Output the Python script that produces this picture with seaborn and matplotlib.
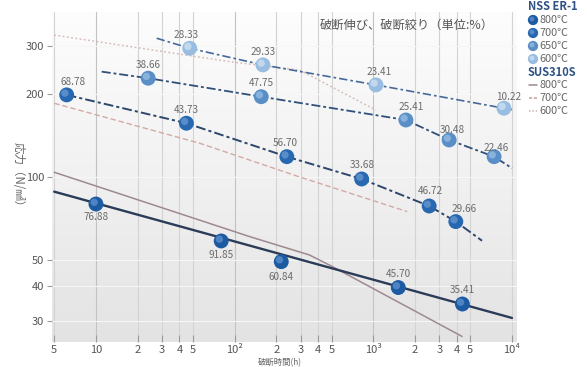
import matplotlib
matplotlib.use("Agg")
import matplotlib.pyplot as plt
import matplotlib.transforms as mtransforms
from matplotlib.colors import LinearSegmentedColormap
from matplotlib.lines import Line2D
import numpy as np
import pandas as pd
import seaborn as sns

# ---------------------------------------------------------------
# Creep rupture data: rupture time (h), stress (N/mm2),
# rupture elongation (%) printed next to each NSS ER-1 point
# ---------------------------------------------------------------
temps = ["800℃", "700℃", "650℃", "600℃"]

nss_800_time = [10, 80, 217, 1514, 4390]
nss_800_stress = [79.7, 58.5, 49.2, 39.6, 34.5]
nss_800_elong = [76.88, 91.85, 60.84, 45.70, 35.41]

nss_700_time = [6.15, 44.9, 238, 824, 2529, 3936]
nss_700_stress = [198.8, 156.8, 118.5, 98.3, 78.4, 68.8]
nss_700_elong = [68.78, 43.73, 56.70, 33.68, 46.72, 29.66]

nss_650_time = [23.8, 155.6, 1718, 3522, 7430]
nss_650_stress = [228.6, 195.8, 161.1, 136.3, 118.5]
nss_650_elong = [38.66, 47.75, 25.41, 30.48, 22.46]

nss_600_time = [47.4, 160, 1045, 8750]
nss_600_stress = [293.8, 255.5, 216.1, 177.8]
nss_600_elong = [28.33, 29.33, 23.41, 10.22]

# NSS ER-1 trend curves
nss_800_trend_time = [5, 10000]
nss_800_trend_stress = [88.4, 30.7]
nss_700_trend_time = [6.15, 44.9, 238, 824, 2529, 3936, 6085]
nss_700_trend_stress = [198.8, 156.8, 118.5, 98.3, 78.4, 68.8, 58.6]
nss_650_trend_time = [11, 23.8, 155.6, 1718, 3522, 7430, 10000]
nss_650_trend_stress = [241.5, 228.6, 195.8, 161.1, 136.3, 118.5, 107.6]
nss_600_trend_time = [27.4, 47.4, 160, 1045, 8750, 10000]
nss_600_trend_stress = [319.5, 293.8, 255.5, 216.1, 177.8, 175.8]

# SUS310S reference curves
sus_800_time = [5, 128, 347, 507, 4365]
sus_800_stress = [104, 60.7, 52.0, 47.2, 26.3]
sus_700_time = [5, 56, 294, 1758]
sus_700_stress = [185.3, 132.6, 100, 74.8]
sus_600_time = [5, 92, 294, 1045]
sus_600_stress = [328, 262.6, 244.8, 175]

x_ticks = [5, 10, 20, 30, 40, 50, 100, 200, 300, 400, 500,
           1000, 2000, 3000, 4000, 5000, 10000]
x_tick_labels = ["5", "10", "2", "3", "4", "5", "10²", "2", "3", "4", "5",
                 "10³", "2", "3", "4", "5", "10⁴"]
y_ticks = [30, 40, 50, 100, 200, 300]

# ---------------------------------------------------------------
sns.set_theme(style="white")
plt.rcParams["font.family"] = ["Noto Sans CJK JP", "DejaVu Sans"]

W, H = 587, 367
fig = plt.figure(figsize=(W / 100, H / 100), dpi=100)
fig.patch.set_facecolor("white")

left_px, right_px, top_px, bottom_px = 52, 517, 12, 342
rect = [left_px / W, 1 - bottom_px / H, (right_px - left_px) / W,
        (bottom_px - top_px) / H]

# soft vertical gradient behind the plotting area
bg = fig.add_axes(rect, zorder=0)
grad = np.linspace(0, 1, 256).reshape(-1, 1)
cmap_bg = LinearSegmentedColormap.from_list("bg", ["#fdfdfd", "#f1f1f1", "#e3e3e3"])
bg.imshow(grad, aspect="auto", cmap=cmap_bg, extent=[0, 1, 0, 1], origin="upper")
bg.axis("off")

ax = fig.add_axes(rect, zorder=1)
ax.set_facecolor("none")
ax.set_xscale("log")
ax.set_yscale("log")
ax.set_xlim(4.82, 10870)
ax.set_ylim(25.1, 398)

# ---------- SUS310S curves ----------
sus_specs = [
    (sus_800_time, sus_800_stress, "#9e8990", "-", 1.1),
    (sus_700_time, sus_700_stress, "#d3aaa4", (0, (4, 2)), 1.0),
    (sus_600_time, sus_600_stress, "#d6bcb6", (0, (1.2, 1.6)), 1.1),
]
for t, s, c, ls, lw in sus_specs:
    df = pd.DataFrame({"time": t, "stress": s})
    sns.lineplot(data=df, x="time", y="stress", ax=ax, color=c,
                 linestyle=ls, linewidth=lw, sort=False, zorder=2)

# ---------- NSS ER-1 trend curves ----------
nss_line_specs = [
    (nss_800_trend_time, nss_800_trend_stress, "#2b3c58", "-", 1.7),
    (nss_700_trend_time, nss_700_trend_stress, "#2c476b", (0, (5, 1.6, 1.6, 1.6)), 1.4),
    (nss_650_trend_time, nss_650_trend_stress, "#30507a", (0, (5, 1.6, 1.6, 1.6)), 1.3),
    (nss_600_trend_time, nss_600_trend_stress, "#46699a", (0, (5, 1.8, 1.6, 1.8)), 1.2),
]
for t, s, c, ls, lw in nss_line_specs:
    df = pd.DataFrame({"time": t, "stress": s})
    sns.lineplot(data=df, x="time", y="stress", ax=ax, color=c,
                 linestyle=ls, linewidth=lw, sort=False, zorder=3)

# ---------- NSS ER-1 measured points ----------
marker_colors = ["#1c5aa2", "#2768b0", "#5a8ec6", "#98bde0"]
highlight_colors = ["#5f93cf", "#6b9ad2", "#98bde3", "#cfe2f3"]
series = [
    (nss_800_time, nss_800_stress, nss_800_elong),
    (nss_700_time, nss_700_stress, nss_700_elong),
    (nss_650_time, nss_650_stress, nss_650_elong),
    (nss_600_time, nss_600_stress, nss_600_elong),
]
# label offsets in points (dx, dy)
label_offsets = [
    [(0, -9.4), (0, -10), (0, -11), (0, 9.4), (0, 9.8)],
    [(4.5, 9.4), (0, 9.4), (-1.5, 9.6), (0.7, 10), (1.2, 11), (6, 9)],
    [(0, 9.4), (0, 9.6), (3.6, 9), (2, 7.5), (1.2, 6.5)],
    [(-2.4, 9.6), (0, 9.6), (2.4, 9.6), (3.6, 8.4)],
]

highlight_tf = mtransforms.offset_copy(ax.transData, fig=fig, x=-1.8, y=1.8, units="dots")

for (t, s, e), mc, hc, offs in zip(series, marker_colors, highlight_colors, label_offsets):
    df = pd.DataFrame({"time": t, "stress": s})
    sns.scatterplot(data=df, x="time", y="stress", ax=ax, color=mc, s=115,
                    edgecolor="none", linewidth=0, zorder=5)
    sns.scatterplot(data=df, x="time", y="stress", ax=ax, color=hc, s=28,
                    edgecolor="none", linewidth=0, alpha=0.75, zorder=6)
    ax.collections[-1].set_offset_transform(highlight_tf)
    for ti, si, ei, (dx, dy) in zip(t, s, e, offs):
        ax.annotate(f"{ei:.2f}", (ti, si), xytext=(dx, dy), textcoords="offset points",
                    ha="center", va="center", fontsize=7.2, color="#6b6b6b", zorder=7)

# ---------- axes styling ----------
for sp in ax.spines.values():
    sp.set_visible(False)

ax.xaxis.set_major_locator(matplotlib.ticker.FixedLocator(x_ticks))
ax.xaxis.set_minor_locator(matplotlib.ticker.NullLocator())
ax.set_xticks(x_ticks)
ax.set_xticklabels(x_tick_labels)
ax.yaxis.set_minor_locator(matplotlib.ticker.NullLocator())
ax.set_yticks(y_ticks)
ax.set_yticklabels([str(v) for v in y_ticks])

ax.tick_params(axis="x", which="major", direction="in", length=5, width=0.8,
               color="#9a9a9a", labelsize=8, labelcolor="#555555", pad=2.5,
               bottom=True)
ax.tick_params(axis="y", which="major", direction="out", length=3.5, width=0.8,
               color="#9a9a9a", labelsize=8, labelcolor="#555555", pad=2,
               left=True)

ax.grid(axis="x", which="major", color="#d3d3d3", linewidth=0.8, zorder=1)
for tick_val, gl in zip(x_ticks, ax.get_xgridlines()):
    if tick_val in (10, 100, 1000):
        gl.set_color("#c2c2c2")
ax.grid(axis="y", which="major", color="#f6f6f6", linewidth=0.8, zorder=1)
ax.set_axisbelow(True)

ax.set_xlabel("破断時間(h)", fontsize=6, color="#666666")
ax.xaxis.set_label_coords((280 - left_px) / (right_px - left_px),
                          (bottom_px - 362.5) / (bottom_px - top_px))
ax.xaxis.label.set_va("center")
ax.set_ylabel("応力（N/㎟）", fontsize=8.3, color="#666666", rotation=270)
ax.yaxis.set_label_coords((18 - left_px) / (right_px - left_px), 0.5)
ax.yaxis.label.set_va("center")

# title note
ax.text((494 - left_px) / (right_px - left_px), (bottom_px - 25) / (bottom_px - top_px),
        "破断伸び、破断絞り（単位:%）", transform=ax.transAxes,
        ha="right", va="center", fontsize=8.8, color="#555555", zorder=8)

# ---------- legend (pixel layout overlay) ----------
lax = fig.add_axes([0, 0, 1, 1], zorder=3)
lax.set_xlim(0, W)
lax.set_ylim(H, 0)
lax.axis("off")

head_color = "#2e5284"
lax.text(528, 7, "NSS ER-1", fontsize=8, fontweight="bold", color=head_color,
         ha="left", va="center")
for i, (lab, mc, hc) in enumerate(zip(temps, marker_colors, highlight_colors)):
    yy = 20 + 13 * i
    lax.scatter([533], [yy], s=55, color=mc, edgecolor="none")
    lax.scatter([532], [yy - 1], s=12, color=hc, edgecolor="none", alpha=0.75)
    lax.text(539, yy, lab, fontsize=7.8, color="#666666", ha="left", va="center")

lax.text(528, 72, "SUS310S", fontsize=8, fontweight="bold", color=head_color,
         ha="left", va="center")
sus_leg = [("800℃", "#9e8990", "-"), ("700℃", "#c79e98", (0, (2, 1.2))),
           ("600℃", "#cdb2ab", (0, (1, 1.2)))]
for i, (lab, c, ls) in enumerate(sus_leg):
    yy = 85 + 13 * i
    lax.add_line(Line2D([529, 537], [yy, yy], color=c, linestyle=ls, linewidth=1.1))
    lax.text(539, yy, lab, fontsize=7.8, color="#666666", ha="left", va="center")

fig.savefig("out.png", dpi=100)
